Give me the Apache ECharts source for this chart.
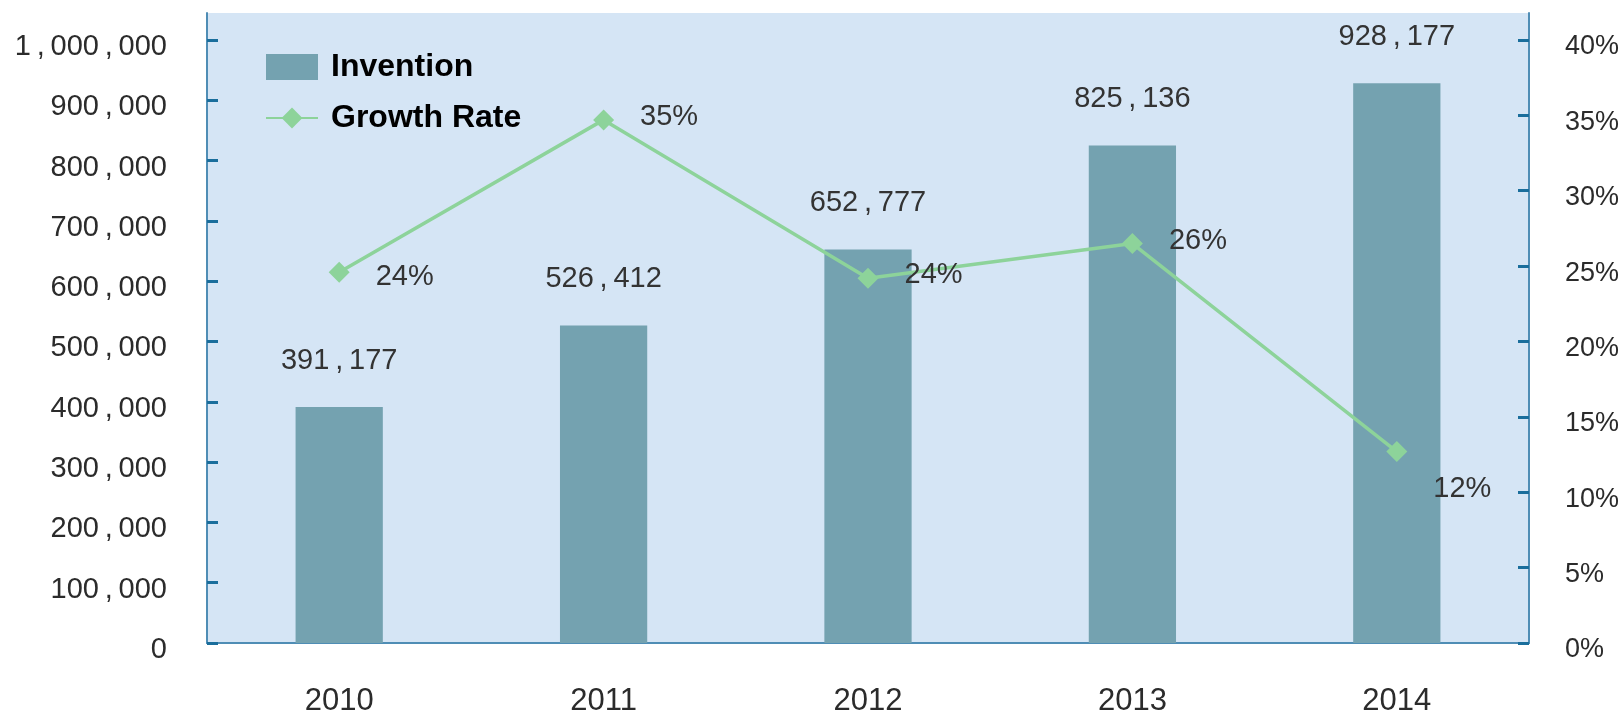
<!DOCTYPE html>
<html>
<head>
<meta charset="utf-8">
<script src="https://cdn.jsdelivr.net/npm/echarts@6/dist/echarts.min.js"></script>
<style>
  html, body { margin: 0; padding: 0; background: #fff; }
  #chart { width: 1623px; height: 714px; }
</style>
</head>
<body>
<div id="chart"></div>
<script>
const years = ['2010', '2011', '2012', '2013', '2014'];
const inventions = [391177, 526412, 652777, 825136, 928177];
// point heights (labels are the printed ones)
const growthRate = [24.6, 34.7, 24.2, 26.5, 12.7];
const growthLabels = ['24%', '35%', '24%', '26%', '12%'];
const leftTicks = [0, 100000, 200000, 300000, 400000, 500000, 600000, 700000, 800000, 900000, 1000000];
const rightTicks = [0, 5, 10, 15, 20, 25, 30, 35, 40];

const barColor = '#74a2b0';
const lineColor = '#8dd39a';
const axisColor = '#4f8db5';
const tickColor = '#1a6e9c';
const textColor = '#2b2b2b';

// wide comma like the original font
const fmtNum = v => v.toLocaleString('en-US').replace(/,/g, '\u2009,\u2009');

const chartDom = document.getElementById('chart');
const chart = echarts.init(chartDom);

const option = {
  animation: false,
  textStyle: { fontFamily: 'Liberation Sans, Arial, sans-serif' },
  legend: {
    orient: 'vertical',
    left: 260,
    top: 46,
    itemWidth: 52,
    itemHeight: 26,
    itemGap: 19,
    data: [
      { name: 'Invention', icon: 'rect' },
      { name: 'Growth Rate' }
    ],
    textStyle: {
      fontSize: 32,
      fontWeight: 'bold',
      color: '#000',
      padding: [0, 0, 0, 8]
    }
  },
  grid: {
    left: 207,
    right: 94,
    top: 13,
    bottom: 71,
    outerBoundsMode: 'none',
    show: true,
    backgroundColor: '#d5e5f5',
    borderWidth: 0
  },
  xAxis: {
    type: 'category',
    data: years,
    axisLine: { lineStyle: { color: axisColor, width: 2 } },
    axisTick: { inside: true, length: 10, lineStyle: { color: tickColor, width: 3 } },
    axisLabel: { margin: 43, fontSize: 31, color: textColor }
  },
  yAxis: [
    {
      type: 'value',
      min: 0,
      max: 1044776,
      splitLine: { show: false },
      axisLine: { show: true, lineStyle: { color: axisColor, width: 2 } },
      axisTick: {
        show: true, inside: true, length: 11, customValues: leftTicks,
        lineStyle: { color: tickColor, width: 3 }
      },
      axisLabel: {
        margin: 40, fontSize: 29, color: textColor, customValues: leftTicks,
        verticalAlign: 'top', lineHeight: 14,
        formatter: v => fmtNum(v)
      }
    },
    {
      type: 'value',
      min: 0,
      max: 41.79,
      position: 'right',
      splitLine: { show: false },
      axisLine: { show: true, lineStyle: { color: axisColor, width: 2 } },
      axisTick: {
        show: true, inside: true, length: 11, customValues: rightTicks,
        lineStyle: { color: tickColor, width: 3 }
      },
      axisLabel: {
        margin: 36, fontSize: 27, color: textColor, customValues: rightTicks,
        verticalAlign: 'top', lineHeight: 14,
        formatter: v => v + '%'
      }
    }
  ],
  series: [
    {
      name: 'Invention',
      type: 'bar',
      barWidth: '33%',
      itemStyle: { color: barColor },
      label: {
        show: true,
        position: 'top',
        distance: 32,
        fontSize: 29,
        color: '#333',
        formatter: p => fmtNum(p.value)
      },
      data: inventions
    },
    {
      name: 'Growth Rate',
      type: 'line',
      yAxisIndex: 1,
      symbol: 'diamond',
      symbolSize: 21,
      lineStyle: { color: lineColor, width: 3.5 },
      itemStyle: { color: lineColor },
      label: {
        show: true,
        position: 'right',
        distance: 26,
        fontSize: 29,
        color: '#333'
      },
      data: growthRate.map((v, i) => ({
        value: v,
        label: {
          formatter: growthLabels[i],
          offset: i === 4 ? [0, 37] : [0, i === 0 ? 5 : -3]
        }
      }))
    }
  ]
};

chart.setOption(option);
</script>
</body>
</html>
